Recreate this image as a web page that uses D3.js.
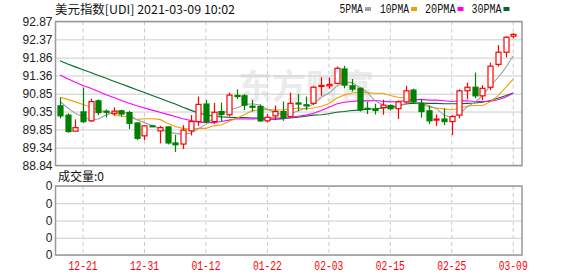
<!DOCTYPE html>
<html>
<head>
<meta charset="utf-8">
<script src="https://cdn.jsdelivr.net/npm/d3@7"></script>
<style>
  body { margin: 0; background: #fff; }
  svg { display: block; }
</style>
</head>
<body>
<div id="chart"></div>
<script>
const dates = ["12-16","12-17","12-18","12-21","12-22","12-23","12-24","12-25","12-28","12-29","12-30","12-31",
    "01-01","01-04","01-05","01-06","01-07","01-08","01-11","01-12","01-13","01-14","01-15","01-18","01-19","01-20","01-21","01-22","01-25","01-26","01-27","01-28","01-29",
    "02-01","02-02","02-03","02-04","02-05","02-08","02-09","02-10","02-11","02-12","02-15","02-16","02-17","02-18","02-19","02-22","02-23","02-24","02-25","02-26",
    "03-01","03-02","03-03","03-04","03-05","03-08","03-09"];

const opens = [90.51,90.25,89.80,90.34,90.09,90.65,90.36,90.30,90.37,90.32,
    90.03,89.67,89.95,89.81,89.92,89.47,89.44,89.81,90.07,90.56,
    90.07,90.35,90.26,90.80,90.79,90.50,90.49,90.09,90.23,90.35,
    90.21,90.59,90.54,90.58,91.05,91.07,91.14,91.54,91.07,91.00,
    90.44,90.42,90.46,90.52,90.43,90.62,90.95,90.58,90.37,90.11,
    90.14,90.07,90.25,90.93,91.03,90.79,91.03,91.67,92.01,92.46];
const highs = [90.74,90.30,90.13,91.02,90.71,90.69,90.41,90.47,90.40,90.37,
    90.05,89.97,89.96,89.95,89.93,89.70,89.97,90.25,90.77,90.67,
    90.59,90.60,90.88,90.97,90.84,90.67,90.55,90.28,90.52,90.63,
    90.88,90.84,90.77,91.07,91.31,91.30,91.61,91.63,91.26,91.02,
    90.62,90.57,90.68,90.55,90.66,91.07,90.99,90.70,90.51,90.27,
    90.44,90.25,90.97,91.16,91.44,91.09,91.72,92.21,92.46,92.54];
const lows = [90.16,89.76,89.80,90.03,90.06,90.25,90.19,90.23,90.21,89.86,
    89.55,89.55,89.93,89.46,89.43,89.22,89.30,89.68,89.95,90.03,
    90.00,90.07,90.21,90.70,90.39,90.35,90.06,90.05,90.11,90.09,
    90.18,90.36,90.39,90.53,90.79,90.99,91.11,91.00,90.91,90.35,
    90.28,90.27,90.26,90.38,90.14,90.58,90.56,90.18,90.00,89.95,
    89.97,89.69,90.16,90.69,90.72,90.67,90.95,91.61,91.87,92.40];
const closes = [90.23,89.79,89.90,90.07,90.63,90.32,90.33,90.36,90.28,90.02,
    89.60,89.95,89.94,89.90,89.47,89.42,89.83,90.07,90.55,90.06,
    90.33,90.27,90.81,90.77,90.53,90.47,90.09,90.19,90.35,90.17,
    90.58,90.56,90.52,91.03,91.08,91.11,91.56,91.09,90.98,90.40,
    90.42,90.38,90.53,90.43,90.62,90.93,90.62,90.35,90.09,90.14,
    90.07,90.21,90.93,91.03,90.79,91.00,91.62,92.01,92.43,92.51];

const ma5 = [90.63,90.45,90.30,90.20,90.12,90.14,90.25,90.34,90.38,90.26,
    90.12,90.04,89.96,89.88,89.77,89.74,89.71,89.74,89.87,89.99,
    90.17,90.26,90.40,90.45,90.54,90.57,90.53,90.41,90.33,90.25,
    90.28,90.37,90.44,90.57,90.75,90.86,91.06,91.17,91.16,91.03,
    90.89,90.65,90.54,90.43,90.48,90.58,90.63,90.59,90.52,90.43,
    90.25,90.17,90.29,90.48,90.61,90.79,91.07,91.29,91.57,91.91];
const ma10 = [90.75,90.69,90.62,90.55,90.47,90.40,90.33,90.27,90.22,90.19,
    90.13,90.15,90.15,90.13,90.02,89.93,89.88,89.85,89.88,89.88,
    89.95,89.98,90.07,90.16,90.26,90.37,90.40,90.41,90.39,90.40,
    90.42,90.45,90.42,90.45,90.50,90.57,90.72,90.81,90.87,90.89,
    90.88,90.86,90.86,90.80,90.75,90.73,90.64,90.57,90.48,90.45,
    90.42,90.40,90.44,90.50,90.52,90.52,90.62,90.79,91.02,91.26];
const ma20 = [91.37,91.27,91.17,91.08,91.00,90.91,90.82,90.74,90.66,90.58,
    90.51,90.45,90.39,90.33,90.27,90.21,90.15,90.10,90.06,90.04,
    90.04,90.07,90.11,90.15,90.14,90.15,90.14,90.13,90.13,90.14,
    90.19,90.22,90.25,90.30,90.38,90.47,90.56,90.61,90.63,90.65,
    90.65,90.66,90.64,90.62,90.63,90.65,90.68,90.69,90.67,90.67,
    90.65,90.63,90.65,90.65,90.63,90.63,90.63,90.68,90.75,90.86];
const ma30 = [91.77,91.68,91.60,91.52,91.44,91.36,91.28,91.20,91.12,91.04,
    90.96,90.88,90.80,90.72,90.64,90.56,90.47,90.39,90.31,90.26,
    90.22,90.20,90.19,90.18,90.18,90.17,90.17,90.17,90.17,90.16,
    90.17,90.19,90.22,90.25,90.26,90.29,90.33,90.35,90.38,90.39,
    90.42,90.43,90.45,90.47,90.51,90.56,90.58,90.59,90.58,90.58,
    90.57,90.57,90.57,90.58,90.59,90.61,90.66,90.72,90.79,90.87];

const yTicks = [88.84, 89.34, 89.85, 90.35, 90.85, 91.36, 91.86, 92.37, 92.87];
const xTicks = ["12-21","12-31","01-12","01-22","02-03","02-15","02-25","03-09"];
const volTicks = ["0","0","0","0","0"];

const maNames = ["5PMA", "10PMA", "20PMA", "30PMA"];
const maColors = ["#a0a0a0", "#f0a000", "#ff00ff", "#006b2e"];

function renderKline () {
    const wSvg = 578;
    const hSvg = 276;
    const left = 55.5;
    const right = 522;
    const top = 21.5;
    const bottom = 165.5;
    const vTop = 186;
    const vBottom = 255;
    const bodyW = 5;
    const up = "#ff0000";
    const down = "#008000";

    let svg = d3.select("#chart")
        .append("svg")
        .attr("width", wSvg)
        .attr("height", hSvg)
        .style("background-color", "white");

    let xScale = d3.scalePoint(dates, [60, 513.2]);
    let yScale = d3.scaleLinear([yTicks[0], yTicks[yTicks.length - 1]], [bottom, top]);
    let vScale = d3.scaleLinear([0, volTicks.length - 1], [vBottom, vTop]);

    // watermark
    svg.append("text")
        .attr("x", 238)
        .attr("y", 99)
        .attr("font-family", "Noto Sans CJK SC")
        .attr("font-size", 34)
        .attr("font-weight", "bold")
        .attr("fill", "#ebebeb")
        .text("东方财富");

    // horizontal grid + y labels (price)
    let yAxis = d3.axisLeft(yScale)
        .tickValues(yTicks)
        .tickSize(-(right - left))
        .tickPadding(3)
        .tickFormat(d => d.toFixed(2));
    let gy = svg.append("g")
        .attr("transform", `translate(${left},0)`)
        .call(yAxis);
    gy.select(".domain").remove();
    gy.selectAll(".tick line").attr("stroke", "#cccccc");
    gy.selectAll(".tick text")
        .attr("fill", "#222")
        .attr("font-family", "Liberation Sans, Arial")
        .attr("font-size", 12);

    // volume grid + labels
    let vAxis = d3.axisLeft(vScale)
        .tickValues(d3.range(volTicks.length))
        .tickSize(-(right - left))
        .tickPadding(3)
        .tickFormat(i => volTicks[i]);
    let gv = svg.append("g")
        .attr("transform", `translate(${left},0)`)
        .call(vAxis);
    gv.select(".domain").remove();
    gv.selectAll(".tick line").attr("stroke", "#cccccc");
    gv.selectAll(".tick text")
        .attr("fill", "#222")
        .attr("font-family", "Liberation Sans, Arial")
        .attr("font-size", 12);

    // vertical dashed grid in both panels
    for (let [y0, y1] of [[top, bottom], [vTop, vBottom]]) {
        svg.append("g")
            .selectAll("line")
            .data(xTicks)
            .enter()
            .append("line")
            .attr("x1", d => xScale(d))
            .attr("x2", d => xScale(d))
            .attr("y1", y0)
            .attr("y2", y1)
            .attr("stroke", "#cccccc")
            .attr("stroke-dasharray", "4,3");
    }

    // x labels
    svg.append("g")
        .selectAll("text")
        .data(xTicks)
        .enter()
        .append("text")
        .attr("x", d => xScale(d))
        .attr("y", 270)
        .attr("text-anchor", "middle")
        .attr("font-family", "Liberation Mono, DejaVu Sans Mono")
        .attr("font-size", 12)
        .attr("textLength", 29)
        .attr("lengthAdjust", "spacingAndGlyphs")
        .attr("fill", "#ff0000")
        .text(d => d);

    // frames
    svg.append("rect")
        .attr("x", left).attr("y", top)
        .attr("width", right - left).attr("height", bottom - top)
        .attr("fill", "none").attr("stroke", "#999").attr("stroke-width", 1.5);
    svg.append("rect")
        .attr("x", left).attr("y", vTop)
        .attr("width", right - left).attr("height", vBottom - vTop)
        .attr("fill", "none").attr("stroke", "#999").attr("stroke-width", 1.5);

    // moving averages
    let mas = [ma5, ma10, ma20, ma30];
    let line = d3.line()
        .x((d, i) => xScale(dates[i]))
        .y(d => yScale(d));
    svg.append("g")
        .selectAll("path")
        .data(mas.slice().reverse())
        .enter()
        .append("path")
        .attr("d", d => line(d))
        .attr("fill", "none")
        .attr("stroke", (d, i) => maColors[3 - i])
        .attr("stroke-width", 1.1);

    // candles
    let candles = dates.map((d, i) => ({date: d, o: opens[i], h: highs[i], l: lows[i], c: closes[i]}));
    let g = svg.append("g")
        .selectAll("g")
        .data(candles)
        .enter()
        .append("g");
    g.append("line")
        .attr("x1", d => Math.round(xScale(d.date)) + 0.5)
        .attr("x2", d => Math.round(xScale(d.date)) + 0.5)
        .attr("y1", d => yScale(d.h))
        .attr("y2", d => yScale(d.l))
        .attr("stroke", d => d.c >= d.o ? up : down)
        .attr("stroke-width", 1.2);
    g.append("rect")
        .attr("x", d => Math.round(xScale(d.date)) + 0.5 - bodyW / 2)
        .attr("y", d => yScale(Math.max(d.o, d.c)))
        .attr("width", bodyW)
        .attr("height", d => Math.max(1, Math.abs(yScale(d.o) - yScale(d.c))))
        .attr("fill", d => d.c >= d.o ? "white" : down)
        .attr("stroke", d => d.c >= d.o ? up : down)
        .attr("stroke-width", 1.2);

    // title
    svg.append("text")
        .attr("x", 55)
        .attr("y", 14)
        .attr("font-family", "Noto Sans CJK SC")
        .attr("font-size", 12)
        .attr("textLength", 180)
        .attr("lengthAdjust", "spacingAndGlyphs")
        .attr("fill", "#111")
        .text("美元指数[UDI] 2021-03-09 10:02");

    // legend
    let legendX = [339.5, 380, 425, 471.5];
    let legendW = [23.5, 29, 30.5, 30];
    let lg = svg.append("g")
        .selectAll("g")
        .data(maNames)
        .enter()
        .append("g");
    lg.append("text")
        .attr("x", (d, i) => legendX[i])
        .attr("y", 13)
        .attr("font-family", "Liberation Mono, DejaVu Sans Mono")
        .attr("font-size", 12)
        .attr("textLength", (d, i) => legendW[i])
        .attr("lengthAdjust", "spacingAndGlyphs")
        .attr("fill", "#111")
        .text(d => d);
    lg.append("rect")
        .attr("x", (d, i) => legendX[i] + legendW[i] + 2)
        .attr("y", 7)
        .attr("width", 6)
        .attr("height", 4)
        .attr("fill", (d, i) => maColors[i]);

    // volume title
    svg.append("text")
        .attr("x", 58)
        .attr("y", 181)
        .attr("font-family", "Noto Sans CJK SC")
        .attr("font-size", 12)
        .attr("fill", "#111")
        .text("成交量:0");
}

renderKline();
</script>
</body>
</html>
